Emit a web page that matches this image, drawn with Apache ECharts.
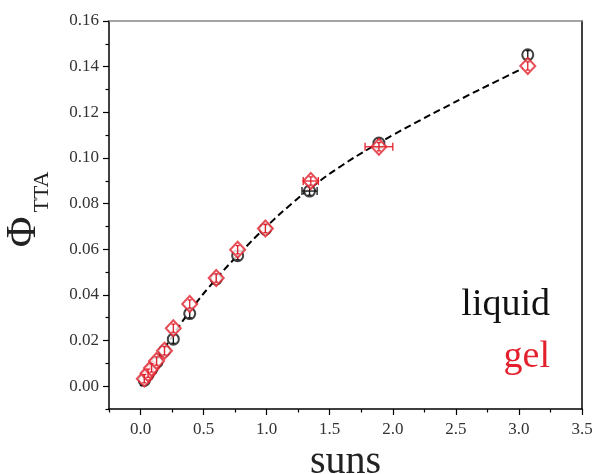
<!DOCTYPE html>
<html>
<head>
<meta charset="utf-8">
<script src="https://cdn.jsdelivr.net/npm/echarts@6/dist/echarts.min.js"></script>
<style>
html,body{margin:0;padding:0;background:#fff;}
#chart{width:595px;height:474px;}
</style>
</head>
<body>
<div id="chart"></div>
<script>
// ---- data ----
const xTicks = [0, 0.5, 1, 1.5, 2, 2.5, 3, 3.5];
const xMinorTicks = [-0.25, 0.25, 0.75, 1.25, 1.75, 2.25, 2.75, 3.25];
const yTicks = [0, 0.02, 0.04, 0.06, 0.08, 0.10, 0.12, 0.14, 0.16];
const yMinorTicks = [-0.01, 0.01, 0.03, 0.05, 0.07, 0.09, 0.11, 0.13, 0.15];

const liquidX    = [0.03, 0.06, 0.09, 0.13, 0.19, 0.26, 0.39, 0.60, 0.77, 0.99, 1.34, 1.89, 3.07];
const liquidY    = [0.0025, 0.005, 0.0075, 0.0105, 0.0155, 0.0206, 0.0318, 0.047, 0.0572, 0.0688, 0.0855, 0.1065, 0.1452];
const liquidXErr = [0, 0, 0, 0, 0, 0, 0, 0, 0, 0, 0.06, 0, 0];
const liquidYErr = [0.0018, 0.0018, 0.0018, 0.0018, 0.0018, 0.0018, 0.0018, 0.0018, 0.0018, 0.0018, 0.0018, 0.0018, 0.0018];

const gelX    = [0.03, 0.06, 0.087, 0.127, 0.19, 0.26, 0.39, 0.60, 0.77, 0.99, 1.35, 1.89, 3.07];
const gelY    = [0.0033, 0.0057, 0.008, 0.011, 0.0155, 0.0254, 0.036, 0.0474, 0.0598, 0.0691, 0.0899, 0.1049, 0.1403];
const gelXErr = [0, 0, 0, 0, 0, 0, 0, 0, 0, 0, 0.06, 0.11, 0];
const gelYErr = [0.0018, 0.0018, 0.0018, 0.0018, 0.0018, 0.0018, 0.0018, 0.0018, 0.0018, 0.0018, 0.0018, 0.0018, 0.0018];

const fitX = [0, 0.2, 0.4, 0.6, 0.8, 1.0, 1.2, 1.4, 1.6, 1.8, 2.0, 2.2, 2.4, 2.6, 2.8, 3.03];
const fitY = [0, 0.0175, 0.0335, 0.047, 0.059, 0.070, 0.080, 0.089, 0.0968, 0.1037, 0.110, 0.116, 0.1218, 0.1275, 0.133, 0.1392];

const seriesNames = ['liquid', 'gel'];
const xTitle = 'suns';

// ---- build ----
const BLACK = '#111111';
const RED = '#e3202c';
const FONT = '"Liberation Serif", "Times New Roman", serif';

const zip = (a, b) => a.map((v, i) => [v, b[i]]);
const errData = (xs, ys, xe, ye) => xs.map((v, i) => [v, ys[i], xe[i], ye[i]]);

function errRender(color) {
  return function (params, api) {
    const x = api.value(0), y = api.value(1), xe = api.value(2), ye = api.value(3);
    const children = [];
    const style = { stroke: color, lineWidth: 1.3 };
    if (xe > 0) {
      const l = api.coord([x - xe, y]), r = api.coord([x + xe, y]);
      children.push({ type: 'line', shape: { x1: l[0], y1: l[1], x2: r[0], y2: r[1] }, style });
      children.push({ type: 'line', shape: { x1: l[0], y1: l[1] - 4, x2: l[0], y2: l[1] + 4 }, style });
      children.push({ type: 'line', shape: { x1: r[0], y1: r[1] - 4, x2: r[0], y2: r[1] + 4 }, style });
    }
    if (ye > 0) {
      const t = api.coord([x, y + ye]), b = api.coord([x, y - ye]);
      children.push({ type: 'line', shape: { x1: t[0], y1: t[1], x2: b[0], y2: b[1] }, style });
      children.push({ type: 'line', shape: { x1: t[0] - 2, y1: t[1], x2: t[0] + 2, y2: t[1] }, style });
      children.push({ type: 'line', shape: { x1: b[0] - 2, y1: b[1], x2: b[0] + 2, y2: b[1] }, style });
    }
    return { type: 'group', children };
  };
}

const chart = echarts.init(document.getElementById('chart'), null, { renderer: 'canvas' });

const commonX = { type: 'value', min: -0.25, max: 3.5, splitLine: { show: false } };
const commonY = { type: 'value', min: -0.01, max: 0.16, splitLine: { show: false } };

chart.setOption({
  backgroundColor: '#ffffff',
  animation: false,
  grid: { left: 109, right: 13, top: 21, bottom: 65, containLabel: false, outerBoundsMode: 'none' },
  xAxis: [
    Object.assign({}, commonX, {
      position: 'bottom',
      axisLine: { show: true, onZero: false, lineStyle: { color: '#000', width: 1.5 } },
      axisTick: { show: true, inside: false, length: 6, customValues: xTicks, lineStyle: { color: '#000', width: 1.2 } },
      axisLabel: { show: true, customValues: xTicks, margin: 12, color: '#333', fontFamily: FONT, fontSize: 17,
                   formatter: v => v.toFixed(1) },
      name: xTitle, nameLocation: 'middle', nameGap: 29,
      nameTextStyle: { fontFamily: FONT, fontSize: 40, color: '#222' }
    }),
    Object.assign({}, commonX, {
      position: 'bottom',
      axisLine: { show: false, onZero: false },
      axisTick: { show: true, inside: false, length: 3.5, customValues: xMinorTicks, lineStyle: { color: '#000', width: 1.2 } },
      axisLabel: { show: false }
    }),
    Object.assign({}, commonX, {
      position: 'top',
      axisLine: { show: true, onZero: false, lineStyle: { color: '#888', width: 1.5 } },
      axisTick: { show: false },
      axisLabel: { show: false }
    })
  ],
  yAxis: [
    Object.assign({}, commonY, {
      position: 'left',
      axisLine: { show: true, onZero: false, lineStyle: { color: '#000', width: 1.5 } },
      axisTick: { show: true, inside: false, length: 6, customValues: yTicks, lineStyle: { color: '#000', width: 1.2 } },
      axisLabel: { show: true, customValues: yTicks, margin: 10, color: '#333', fontFamily: FONT, fontSize: 17,
                   formatter: v => v.toFixed(2) }
    }),
    Object.assign({}, commonY, {
      position: 'left',
      axisLine: { show: false, onZero: false },
      axisTick: { show: true, inside: false, length: 3.5, customValues: yMinorTicks, lineStyle: { color: '#000', width: 1.2 } },
      axisLabel: { show: false }
    }),
    Object.assign({}, commonY, {
      position: 'right',
      axisLine: { show: true, onZero: false, lineStyle: { color: '#000', width: 1.5 } },
      axisTick: { show: false },
      axisLabel: { show: false }
    })
  ],
  series: [
    {
      name: 'fit', type: 'line', data: zip(fitX, fitY), smooth: true, showSymbol: false, symbol: 'none',
      lineStyle: { color: '#000', width: 2, type: [7, 4] }, z: 1, silent: true
    },
    {
      name: seriesNames[0], type: 'scatter', data: zip(liquidX, liquidY), symbol: 'circle', symbolSize: 11,
      itemStyle: { color: '#fff', borderColor: BLACK, borderWidth: 2 }, z: 2
    },
    {
      name: seriesNames[0] + ' err', type: 'custom', data: errData(liquidX, liquidY, liquidXErr, liquidYErr),
      renderItem: errRender(BLACK), z: 3, silent: true
    },
    {
      name: seriesNames[1], type: 'scatter', data: zip(gelX, gelY), symbol: 'diamond', symbolSize: [15, 16],
      itemStyle: { color: '#fff', borderColor: RED, borderWidth: 2 }, z: 4
    },
    {
      name: seriesNames[1] + ' err', type: 'custom', data: errData(gelX, gelY, gelXErr, gelYErr),
      renderItem: errRender(RED), z: 5, silent: true
    }
  ],
  graphic: [
    { type: 'text', x: 24, y: 232, rotation: Math.PI / 2,
      style: { text: 'Φ', fontFamily: FONT, fontSize: 42, fill: '#222', align: 'center', verticalAlign: 'middle' } },
    { type: 'text', x: 42, y: 192, rotation: Math.PI / 2,
      style: { text: 'TTA', fontFamily: FONT, fontSize: 22, fill: '#222', align: 'center', verticalAlign: 'middle' } },
    { type: 'text', x: 550, y: 305, style: { text: seriesNames[0], fontFamily: FONT, fontSize: 38, fill: BLACK, align: 'right', verticalAlign: 'middle' } },
    { type: 'text', x: 550, y: 357, style: { text: seriesNames[1], fontFamily: FONT, fontSize: 38, fill: RED, align: 'right', verticalAlign: 'middle' } }
  ]
});
</script>
</body>
</html>
